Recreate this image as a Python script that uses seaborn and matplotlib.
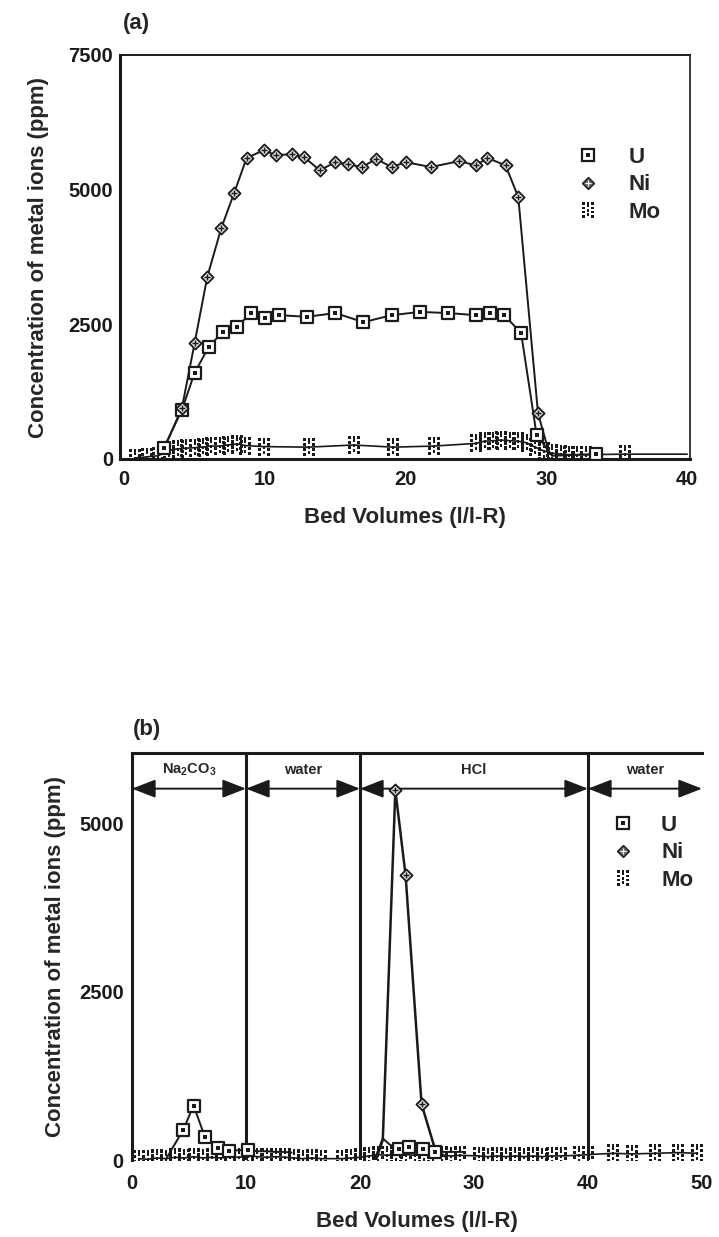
import matplotlib
matplotlib.use("Agg")
import matplotlib.pyplot as plt
from matplotlib.path import Path
from matplotlib.lines import Line2D
from matplotlib.legend_handler import HandlerTuple
import seaborn as sns
import pandas as pd

# ---------------- data : panel (a) ----------------
U_a_x = [2.8, 4.1, 5.0, 6.0, 7.0, 8.0, 9.0, 10.0, 11.0, 13.0, 15.0, 17.0, 19.0,
         21.0, 23.0, 25.0, 26.0, 27.0, 28.2, 29.3, 30.4, 33.5]
U_a_y = [200, 910, 1600, 2080, 2360, 2450, 2710, 2620, 2670, 2640, 2710, 2540, 2670,
         2730, 2710, 2670, 2710, 2670, 2340, 450, 60, 90]
Ni_a_x = [2.9, 4.1, 5.0, 5.9, 6.9, 7.8, 8.7, 9.9, 10.8, 11.9, 12.8, 13.9, 15.0, 15.9,
          16.9, 17.9, 19.0, 20.0, 21.8, 23.8, 25.0, 25.8, 27.1, 28.0, 29.4, 30.2]
Ni_a_y = [230, 950, 2150, 3380, 4290, 4930, 5590, 5730, 5640, 5660, 5600, 5360, 5510, 5470,
          5420, 5570, 5420, 5510, 5420, 5530, 5450, 5590, 5450, 4860, 850, 100]
Mo_a_x = [0.8, 1.6, 2.4, 3.2, 3.8, 4.4, 5.0, 5.6, 6.2, 6.8, 7.4, 8.0, 8.6, 9.9, 13.1, 16.3,
          19.1, 22.0, 25.0, 25.6, 26.2, 26.8, 27.4, 28.0, 28.6, 29.2, 29.8, 30.4, 31.0,
          31.6, 32.2, 32.8, 35.6, 40.0]
Mo_a_y = [20, 40, 60, 160, 190, 200, 210, 220, 240, 240, 260, 280, 250, 230, 220, 260,
          220, 240, 290, 330, 340, 350, 340, 330, 300, 220, 150, 110, 90, 80, 80, 80, 90, 90]

# ---------------- data : panel (b) ----------------
U_b1_x = [3.0, 4.5, 5.4, 6.4, 7.5, 8.5, 10.2, 11.0, 11.8, 12.6, 13.4, 14.0]
U_b1_y = [20, 450, 810, 340, 180, 140, 150, 130, 130, 120, 120, 110]
U_b2_x = [21.3, 22.0, 22.6, 23.4, 24.3, 25.5, 26.6, 27.5, 29.1]
U_b2_y = [20, 320, 230, 160, 200, 160, 120, 120, 120]
Ni_b_x = [21.4, 22.0, 23.1, 24.0, 25.4, 26.6, 27.5]
Ni_b_y = [0, 300, 5500, 4230, 830, 150, 50]
Mo_b_x = [0.6, 1.4, 2.2, 3.0, 3.8, 4.6, 5.4, 6.2, 7.0, 7.8, 8.6, 9.4, 10.2, 11.0, 11.8,
          12.6, 13.4, 14.2, 15.0, 15.8, 16.6, 18.4, 19.2, 20.0, 20.8, 21.6, 22.4, 23.2,
          24.0, 24.8, 25.6, 26.4, 27.2, 28.0, 28.8, 30.4, 31.2, 32.0, 32.8, 33.6, 34.4,
          35.2, 36.0, 36.8, 37.6, 39.2, 40.0, 42.2, 43.9, 45.9, 47.9, 49.6]
Mo_b_y = [20, 10, 30, 20, 40, 30, 50, 30, 40, 30, 50, 40, 60, 50, 40, 50, 40, 30, 20, 30, 20,
          20, 30,
          40, 60, 80, 70, 90, 80, 70, 90, 80, 70, 60, 70,
          60, 50, 60, 50, 60, 50, 60, 50, 60, 60,
          70, 80,
          100, 90, 100, 110, 100]

section_edges = [0, 10, 20, 40, 50]
section_names = ["Na$_2$CO$_3$", "water", "HCl", "water"]

legend_labels = ["U", "Ni", "Mo"]
yticks_a = [0, 2500, 5000, 7500]
yticks_b = [0, 2500, 5000]
xticks_a = [0, 10, 20, 30, 40]
xticks_b = [0, 10, 20, 30, 40, 50]
xlabel = "Bed Volumes (l/l-R)"
ylabel = "Concentration of metal ions (ppm)"

# ---------------- style ----------------
sns.set_theme(style="white")
plt.rcParams["font.family"] = ["Liberation Sans", "DejaVu Sans"]
plt.rcParams["font.weight"] = "bold"
plt.rcParams["mathtext.fontset"] = "custom"
plt.rcParams["mathtext.bf"] = "Liberation Sans:bold"
plt.rcParams["mathtext.rm"] = "Liberation Sans:bold"
plt.rcParams["mathtext.default"] = "bf"

W, H = 719, 1237
fig = plt.figure(figsize=(W / 100, H / 100), dpi=100)
fig.patch.set_facecolor("white")


def px_axes(l, t, r, b):
    return fig.add_axes([l / W, 1 - b / H, (r - l) / W, (b - t) / H])


def dot_path():
    verts, codes = [], []
    s = 0.1
    for i, cx in enumerate((-0.34, 0.0, 0.34)):
        off = 0.14 if i == 1 else 0.0
        for cy in (-0.5, -0.17, 0.17, 0.5):
            y0 = cy + off if abs(cy + off) <= 0.55 else cy
            verts += [(cx - s, y0 - s), (cx + s, y0 - s), (cx + s, y0 + s),
                      (cx - s, y0 + s), (cx - s, y0 - s)]
            codes += [Path.MOVETO, Path.LINETO, Path.LINETO, Path.LINETO, Path.CLOSEPOLY]
    return Path(verts, codes)


MO_MARK = dot_path()


def line(ax, x, y, lw=1.4, z=3):
    df = pd.DataFrame({"x": x, "y": y})
    sns.lineplot(data=df, x="x", y="y", ax=ax, color="k", lw=lw, sort=False,
                 estimator=None, legend=False, zorder=z)


def marks(ax, x, y, kind, z=4):
    df = pd.DataFrame({"x": x, "y": y})
    if kind == "U":
        sns.scatterplot(data=df, x="x", y="y", ax=ax, marker="s", s=70, facecolor="white",
                        edgecolor="k", linewidth=1.6, zorder=z, legend=False)
        sns.scatterplot(data=df, x="x", y="y", ax=ax, marker="s", s=5, color="k",
                        linewidth=0, zorder=z + 0.1, legend=False)
    elif kind == "Ni":
        sns.scatterplot(data=df, x="x", y="y", ax=ax, marker="D", s=38, facecolor="#dddddd",
                        edgecolor="k", linewidth=1.3, zorder=z, legend=False)
        sns.scatterplot(data=df, x="x", y="y", ax=ax, marker="+", s=22, color="k",
                        linewidth=1.0, zorder=z + 0.1, legend=False)
    else:
        sns.scatterplot(data=df, x="x", y="y", ax=ax, marker=MO_MARK, s=150, color="k",
                        linewidth=0, zorder=z, legend=False)


def sub(x, y, idx):
    return [x[i] for i in idx], [y[i] for i in idx]


def legend_handles():
    hU = (Line2D([], [], ls="none", marker="s", ms=8, mfc="white", mec="k", mew=1.6),
          Line2D([], [], ls="none", marker="s", ms=2.2, mfc="k", mec="k", mew=0))
    hNi = (Line2D([], [], ls="none", marker="D", ms=6, mfc="#666666", mec="k", mew=1.0),
           Line2D([], [], ls="none", marker="+", ms=4, mec="white", mew=0.8))
    hMo = Line2D([], [], ls="none", marker=MO_MARK, ms=11, mfc="k", mec="k", mew=0)
    return [hU, hNi, hMo]


def style_axes(ax, xt, yt, xminor, yminor):
    ax.set_xticks(xt)
    ax.set_yticks(yt)
    ax.set_xticks(xminor, minor=True)
    ax.set_yticks(yminor, minor=True)
    ax.tick_params(axis="both", which="major", direction="in", length=5, width=1.2,
                   labelsize=14.5, colors="k")
    ax.tick_params(axis="both", which="minor", direction="in", length=3, width=1.0)
    ax.tick_params(axis="y", which="major", pad=5)
    ax.tick_params(axis="x", which="major", pad=8)
    for t in ax.get_xticklabels() + ax.get_yticklabels():
        t.set_fontweight("bold")
    ax.set_facecolor("white")
    ax.grid(False)


# ================= panel (a) =================
axA = px_axes(120, 55, 690, 459)
line(axA, Mo_a_x, Mo_a_y, lw=1.2, z=2)
mx, my = sub(Mo_a_x, Mo_a_y, range(len(Mo_a_x) - 1))
marks(axA, mx, my, "Mo", z=2.5)
line(axA, U_a_x, U_a_y)
ux, uy = sub(U_a_x, U_a_y, [i for i in range(len(U_a_x)) if i != len(U_a_x) - 2])
marks(axA, ux, uy, "U")
line(axA, Ni_a_x, Ni_a_y)
nx, ny = sub(Ni_a_x, Ni_a_y, range(1, len(Ni_a_x) - 1))
marks(axA, nx, ny, "Ni", z=5)

axA.set_xlim(-0.3, 40.2)
axA.set_ylim(0, 7500)
style_axes(axA, xticks_a, yticks_a, [5, 15, 25, 35], [1250, 3750, 6250])
for side, lw in (("left", 2.2), ("bottom", 2.2), ("top", 1.4), ("right", 1.2)):
    axA.spines[side].set_visible(True)
    axA.spines[side].set_color("k")
    axA.spines[side].set_linewidth(lw)
axA.set_xlabel(xlabel, fontsize=16, fontweight="bold")
axA.set_ylabel(ylabel, fontsize=16, fontweight="bold")
axA.xaxis.set_label_coords(0.5, -0.12)
axA.yaxis.set_label_coords(-0.125, 0.5)

legA = axA.legend(legend_handles(), legend_labels,
                  handler_map={tuple: HandlerTuple(ndivide=1)},
                  loc="center left", bbox_to_anchor=(575 / W, 1 - 185 / H),
                  bbox_transform=fig.transFigure, frameon=False, borderpad=0,
                  borderaxespad=0, handlelength=1.2, handletextpad=1.2,
                  labelspacing=0.3, prop={"size": 16, "weight": "bold"})

# ================= panel (b) =================
axB = px_axes(132, 753, 702, 1160)
line(axB, Mo_b_x, Mo_b_y, lw=1.2, z=2)
marks(axB, Mo_b_x, Mo_b_y, "Mo", z=2.5)
line(axB, U_b1_x, U_b1_y)
ux, uy = sub(U_b1_x, U_b1_y, range(1, 7))
marks(axB, ux, uy, "U")
line(axB, U_b2_x, U_b2_y)
ux, uy = sub(U_b2_x, U_b2_y, range(3, 7))
marks(axB, ux, uy, "U")
line(axB, Ni_b_x, Ni_b_y, lw=1.8)
nx, ny = sub(Ni_b_x, Ni_b_y, range(2, 5))
marks(axB, nx, ny, "Ni", z=5)

axB.set_xlim(0, 50)
axB.set_ylim(0, 6050)
style_axes(axB, xticks_b, yticks_b, [], [1250, 3750])
axB.tick_params(axis="x", which="major", length=0, pad=10)
axB.tick_params(axis="y", which="major", pad=6)
for side in ("right", "bottom"):
    axB.spines[side].set_visible(False)
for side in ("left", "top"):
    axB.spines[side].set_visible(True)
    axB.spines[side].set_color("k")
    axB.spines[side].set_linewidth(2.2)

for edge in section_edges[1:-1]:
    axB.axvline(edge, color="k", lw=2.2, zorder=1.5)

arrow_y = 5520
text_y = 5800
for i, name in enumerate(section_names):
    a, b = section_edges[i], section_edges[i + 1]
    axB.annotate("", xy=(b, arrow_y), xytext=(a, arrow_y),
                 arrowprops=dict(arrowstyle="<|-|>,head_length=0.9,head_width=0.35",
                                 color="k", lw=1.4, mutation_scale=16,
                                 shrinkA=0, shrinkB=0))
    axB.text((a + b) / 2, text_y, name, ha="center", va="center", fontsize=10.5,
             fontweight="bold")

axB.set_xlabel(xlabel, fontsize=16, fontweight="bold")
axB.set_ylabel(ylabel, fontsize=16, fontweight="bold")
axB.xaxis.set_label_coords(0.5, -0.125)
axB.yaxis.set_label_coords(-0.115, 0.5)

legB = axB.legend(legend_handles(), legend_labels,
                  handler_map={tuple: HandlerTuple(ndivide=1)},
                  loc="center left", bbox_to_anchor=(610 / W, 1 - 853 / H),
                  bbox_transform=fig.transFigure, frameon=False, borderpad=0,
                  borderaxespad=0, handlelength=1.2, handletextpad=1.1,
                  labelspacing=0.3, prop={"size": 16, "weight": "bold"})

fig.text(136 / W, 1 - 24 / H, "(a)", ha="center", va="center", fontsize=16,
         fontweight="bold")
fig.text(147 / W, 1 - 729 / H, "(b)", ha="center", va="center", fontsize=16,
         fontweight="bold")

fig.savefig("out.png", dpi=100, facecolor="white")
